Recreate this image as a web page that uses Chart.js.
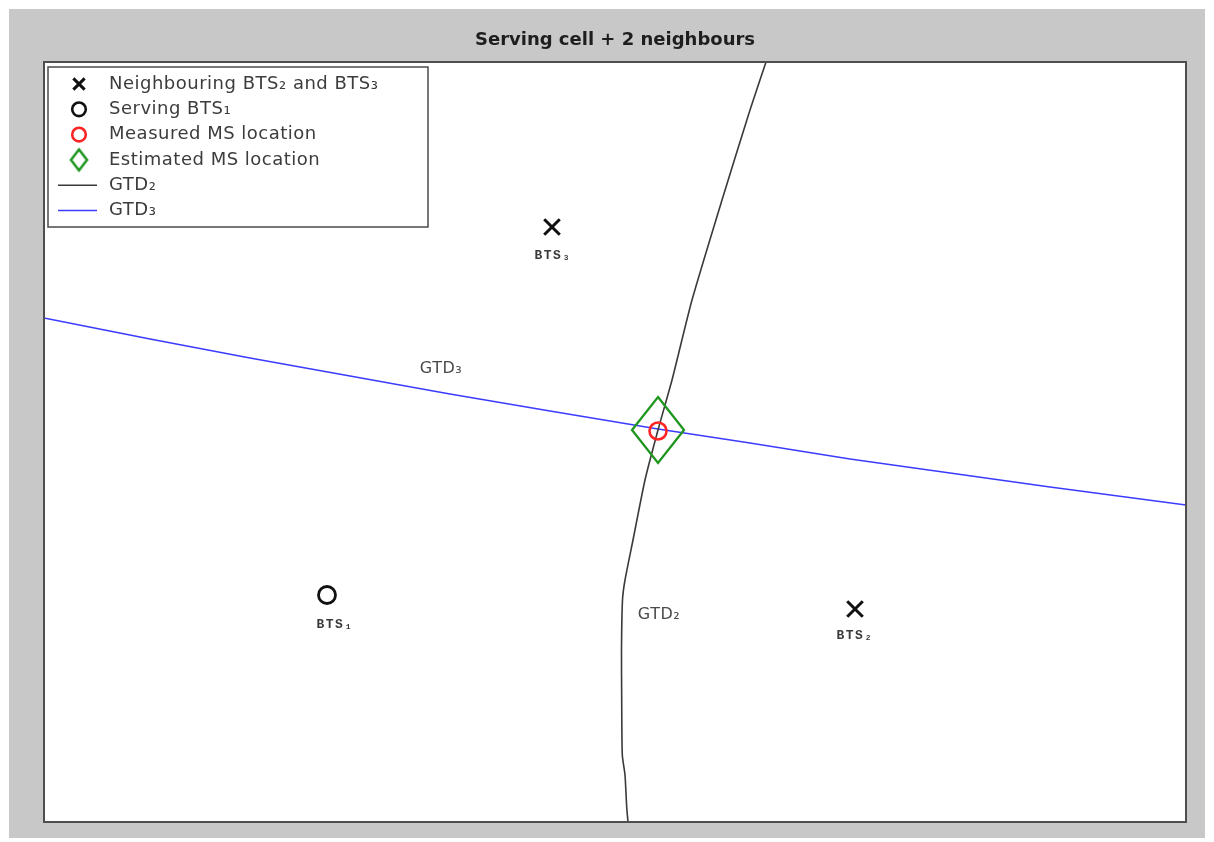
<!DOCTYPE html>
<html>
<head>
<meta charset="utf-8">
<script src="https://cdn.jsdelivr.net/npm/chart.js@4/dist/chart.umd.min.js"></script>
<style>
  html, body { margin: 0; padding: 0; background: #ffffff; }
  canvas { display: block; }
</style>
</head>
<body>
<canvas id="c" width="1214" height="842"></canvas>
<script>
// Coordinates in metres over the map window
const xRange = [0, 1142];
const yRange = [0, 760];

// GTD2 hyperbola (BTS1 / BTS2 time difference)
const gtd2X = [722, 706, 678, 648, 628, 614, 601, 589, 581, 578.5, 577.5, 577.7, 578.3, 581, 582.7, 584];
const gtd2Y = [760, 712, 622, 522, 442, 392, 342, 282, 242, 222, 172, 122, 67, 47, 15, 0];

// GTD3 hyperbola (BTS1 / BTS3 time difference)
const gtd3X = [0, 106, 206, 306, 406, 506, 614, 706, 806, 906, 1006, 1142];
const gtd3Y = [504, 483, 464, 446, 428, 411, 393, 379, 363, 349, 335, 317];

// Base stations
const neighbourX = [811, 508];
const neighbourY = [213, 595];
const servingX = [283];
const servingY = [227];

// Mobile station
const measuredX = [614];
const measuredY = [391];
const estimatedX = [614];
const estimatedY = [392];

// Text annotations on the map
const siteLabels = ['BTS₁', 'BTS₂', 'BTS₃'];
const siteLabelX = [290, 810, 508];
const siteLabelY = [197, 186, 566];
const curveLabels = ['GTD₂', 'GTD₃'];
const curveLabelX = [615, 397];
const curveLabelY = [207, 453];

const legendLabels = [
  'Neighbouring BTS₂ and BTS₃',
  'Serving BTS₁',
  'Measured MS location',
  'Estimated MS location',
  'GTD₂',
  'GTD₃'
];

const pts = (xs, ys) => xs.map((x, i) => ({ x, y: ys[i] }));

// Elongated diamond marker
function diamond(w, h, lw, color) {
  const c = document.createElement('canvas');
  c.width = w + lw * 2;
  c.height = h + lw * 2;
  const g = c.getContext('2d');
  g.strokeStyle = color;
  g.lineWidth = lw;
  g.lineJoin = 'miter';
  const cx = c.width / 2, cy = c.height / 2;
  g.beginPath();
  g.moveTo(cx, cy - h / 2);
  g.lineTo(cx + w / 2, cy);
  g.lineTo(cx, cy + h / 2);
  g.lineTo(cx - w / 2, cy);
  g.closePath();
  g.stroke();
  return c;
}
const GREEN = '#1e961e';
const bigDiamond = diamond(52, 66, 2.3, GREEN);
const smallDiamond = diamond(16, 21, 2.5, GREEN);

const datasets = [
  { label: legendLabels[3], data: pts(estimatedX, estimatedY), pointStyle: bigDiamond,
    pointRadius: 30, borderColor: GREEN, backgroundColor: 'transparent', showLine: false },
  { label: legendLabels[2], data: pts(measuredX, measuredY), pointStyle: 'circle',
    pointRadius: 8.5, pointBorderWidth: 2.6, borderColor: '#ff2424', backgroundColor: 'transparent', showLine: false },
  { label: legendLabels[1], data: pts(servingX, servingY), pointStyle: 'circle',
    pointRadius: 8.5, pointBorderWidth: 2.8, borderColor: '#111111', backgroundColor: 'transparent', showLine: false },
  { label: legendLabels[0], data: pts(neighbourX, neighbourY), pointStyle: 'crossRot',
    pointRadius: 11, pointBorderWidth: 3, borderColor: '#111111', backgroundColor: 'transparent', showLine: false },
  { label: legendLabels[4], data: pts(gtd2X, gtd2Y), showLine: true, pointRadius: 0,
    borderColor: '#3a3a3a', borderWidth: 1.6, tension: 0.2 },
  { label: legendLabels[5], data: pts(gtd3X, gtd3Y), showLine: true, pointRadius: 0,
    borderColor: '#3c3cff', borderWidth: 1.6, tension: 0.2 }
];

// Page frame, white map area and its border
const framePlugin = {
  id: 'frame',
  beforeDraw(chart) {
    const { ctx, chartArea: a } = chart;
    ctx.save();
    ctx.fillStyle = '#ffffff';
    ctx.fillRect(0, 0, chart.width, chart.height);
    ctx.fillStyle = '#c8c8c8';
    ctx.fillRect(9, 9, 1196, 829);
    ctx.fillStyle = '#ffffff';
    ctx.fillRect(a.left, a.top, a.right - a.left, a.bottom - a.top);
    ctx.restore();
  },
  afterDatasetsDraw(chart) {
    const { ctx, chartArea: a } = chart;
    ctx.save();
    ctx.strokeStyle = '#4e4e4e';
    ctx.lineWidth = 2;
    ctx.strokeRect(a.left, a.top, a.right - a.left, a.bottom - a.top);
    ctx.restore();
  }
};

// Station and curve annotations
const labelPlugin = {
  id: 'mapLabels',
  afterDatasetsDraw(chart) {
    const { ctx, scales: { x, y } } = chart;
    ctx.save();
    ctx.textAlign = 'center';
    ctx.textBaseline = 'middle';
    ctx.fillStyle = '#3a3a3a';
    ctx.font = 'bold 13px "Liberation Mono", monospace';
    ctx.letterSpacing = '1.5px';
    siteLabels.forEach((t, i) => {
      ctx.fillText(t, x.getPixelForValue(siteLabelX[i]) + 1, y.getPixelForValue(siteLabelY[i]));
    });
    ctx.letterSpacing = '0.5px';
    ctx.fillStyle = '#4a4a4a';
    ctx.font = '16px "DejaVu Sans", sans-serif';
    curveLabels.forEach((t, i) => {
      ctx.fillText(t, x.getPixelForValue(curveLabelX[i]), y.getPixelForValue(curveLabelY[i]));
    });
    ctx.restore();
  }
};

// Boxed key in the upper-left corner of the map
const keyPlugin = {
  id: 'mapKey',
  afterDatasetsDraw(chart) {
    const { ctx, chartArea: a } = chart;
    const left = a.left + 4, top = a.top + 5, w = 380, h = 160;
    ctx.save();
    ctx.fillStyle = '#ffffff';
    ctx.fillRect(left, top, w, h);
    ctx.strokeStyle = '#555555';
    ctx.lineWidth = 1.6;
    ctx.strokeRect(left, top, w, h);
    const order = [3, 2, 1, 0, 4, 5];
    const markX = left + 31, textX = left + 61;
    order.forEach((di, row) => {
      const ds = chart.data.datasets[di];
      const cy = top + 17 + row * 25.3;
      if (ds.showLine) {
        ctx.strokeStyle = ds.borderColor;
        ctx.lineWidth = 1.4;
        ctx.beginPath();
        ctx.moveTo(left + 10, cy);
        ctx.lineTo(left + 49, cy);
        ctx.stroke();
      } else if (ds.pointStyle === bigDiamond) {
        ctx.drawImage(smallDiamond, markX - smallDiamond.width / 2, cy - smallDiamond.height / 2);
      } else {
        const isCross = ds.pointStyle === 'crossRot';
        ctx.strokeStyle = ds.borderColor;
        ctx.fillStyle = 'transparent';
        ctx.lineWidth = isCross ? 3 : 2.6;
        Chart.helpers.drawPoint(ctx, {
          pointStyle: ds.pointStyle,
          radius: isCross ? 8 : 6.8,
          borderWidth: ctx.lineWidth,
          rotation: 0
        }, markX, cy);
      }
      ctx.fillStyle = '#3c3c3c';
      ctx.font = '18px "DejaVu Sans", sans-serif';
      ctx.letterSpacing = '0.5px';
      ctx.textAlign = 'left';
      ctx.textBaseline = 'middle';
      ctx.fillText(ds.label, textX, cy);
    });
    ctx.restore();
  }
};

new Chart(document.getElementById('c'), {
  type: 'scatter',
  data: { datasets },
  options: {
    responsive: false,
    animation: false,
    devicePixelRatio: 1,
    layout: { autoPadding: false, padding: { left: 44, right: 28, top: 30, bottom: 20 } },
    scales: {
      x: { type: 'linear', min: xRange[0], max: xRange[1], display: false },
      y: { type: 'linear', min: yRange[0], max: yRange[1], display: false }
    },
    plugins: {
      legend: { display: false },
      tooltip: { enabled: false },
      title: {
        display: true,
        text: 'Serving cell + 2 neighbours',
        color: '#1e1e1e',
        font: { family: '"DejaVu Sans", sans-serif', size: 18, weight: 'bold', lineHeight: 1.2 },
        padding: { top: 0, bottom: 10.4 }
      }
    }
  },
  plugins: [framePlugin, labelPlugin, keyPlugin]
});
</script>
</body>
</html>
